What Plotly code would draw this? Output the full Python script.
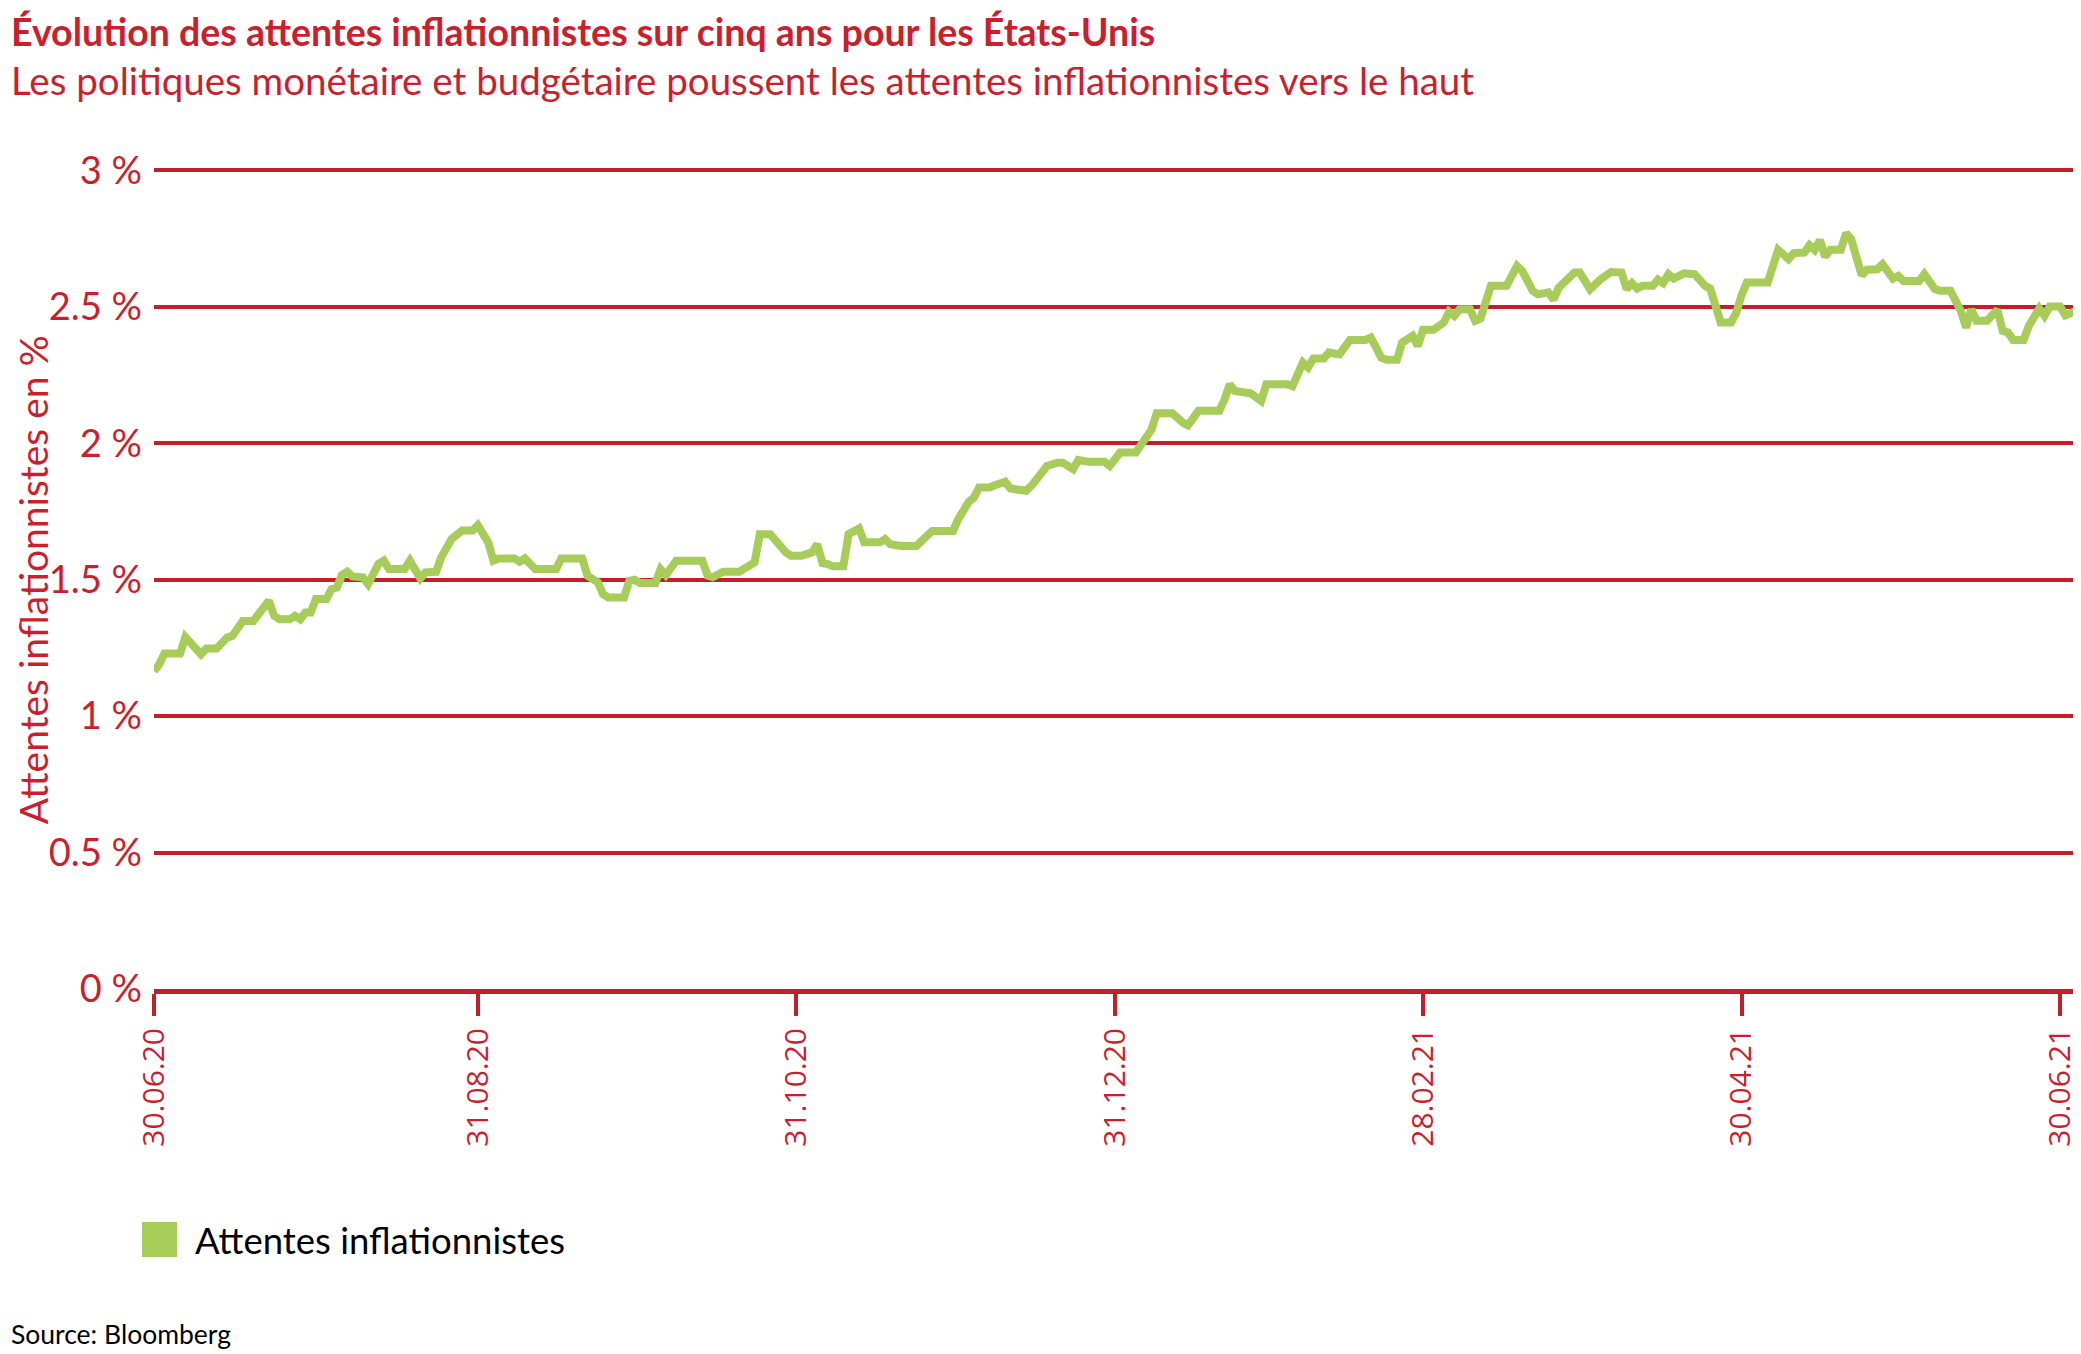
import plotly.graph_objects as go

RED = "#CC1F2D"
GRID_RED = "#C41E2A"
GREEN = "#A8CC5A"
TEXT_FONT = "Lato, sans-serif"
TICK_FONT = "Open Sans, sans-serif"

# Attentes inflationnistes sur cinq ans, Etats-Unis
dates = [
    "2020-06-30", "2020-07-01", "2020-07-02", "2020-07-05", "2020-07-06", "2020-07-09",
    "2020-07-10", "2020-07-12", "2020-07-14", "2020-07-15", "2020-07-17", "2020-07-19",
    "2020-07-22", "2020-07-23", "2020-07-24", "2020-07-26", "2020-07-27", "2020-07-28",
    "2020-07-29", "2020-07-30", "2020-07-31",
    "2020-08-02", "2020-08-03", "2020-08-04", "2020-08-05", "2020-08-06", "2020-08-07",
    "2020-08-09", "2020-08-10", "2020-08-12", "2020-08-13", "2020-08-14", "2020-08-17",
    "2020-08-18", "2020-08-20", "2020-08-21", "2020-08-23", "2020-08-24", "2020-08-26",
    "2020-08-27", "2020-08-28", "2020-08-30", "2020-08-31",
    "2020-09-02", "2020-09-03", "2020-09-04", "2020-09-07", "2020-09-08", "2020-09-09",
    "2020-09-11", "2020-09-15", "2020-09-16", "2020-09-20", "2020-09-21", "2020-09-23",
    "2020-09-24", "2020-09-25", "2020-09-28", "2020-09-29", "2020-09-30",
    "2020-10-01", "2020-10-04", "2020-10-05", "2020-10-06", "2020-10-08", "2020-10-13",
    "2020-10-14", "2020-10-15", "2020-10-17", "2020-10-20", "2020-10-23", "2020-10-24",
    "2020-10-26", "2020-10-29", "2020-10-30",
    "2020-11-01", "2020-11-03", "2020-11-04", "2020-11-05", "2020-11-06", "2020-11-07",
    "2020-11-09", "2020-11-10", "2020-11-12", "2020-11-13", "2020-11-16", "2020-11-17",
    "2020-11-18", "2020-11-20", "2020-11-23", "2020-11-25", "2020-11-26", "2020-11-30",
    "2020-12-01", "2020-12-03", "2020-12-04", "2020-12-05", "2020-12-07", "2020-12-08",
    "2020-12-10", "2020-12-11", "2020-12-13", "2020-12-14", "2020-12-15", "2020-12-17",
    "2020-12-18", "2020-12-20", "2020-12-21", "2020-12-23", "2020-12-24", "2020-12-26",
    "2020-12-29", "2020-12-30",
    "2021-01-01", "2021-01-04", "2021-01-05", "2021-01-07", "2021-01-08", "2021-01-11",
    "2021-01-13", "2021-01-14", "2021-01-16", "2021-01-20", "2021-01-21", "2021-01-22",
    "2021-01-23", "2021-01-26", "2021-01-28", "2021-01-29",
    "2021-02-02", "2021-02-03", "2021-02-05", "2021-02-06", "2021-02-07", "2021-02-09",
    "2021-02-10", "2021-02-12", "2021-02-14", "2021-02-17", "2021-02-18", "2021-02-20",
    "2021-02-21", "2021-02-23", "2021-02-24", "2021-02-26", "2021-02-27", "2021-02-28",
    "2021-03-02", "2021-03-04", "2021-03-05", "2021-03-06", "2021-03-07", "2021-03-09",
    "2021-03-10", "2021-03-11", "2021-03-13", "2021-03-16", "2021-03-18", "2021-03-19",
    "2021-03-21", "2021-03-22", "2021-03-24", "2021-03-25", "2021-03-26", "2021-03-29",
    "2021-03-30",
    "2021-04-01", "2021-04-03", "2021-04-05", "2021-04-07", "2021-04-08", "2021-04-09",
    "2021-04-10", "2021-04-11", "2021-04-13", "2021-04-14", "2021-04-15", "2021-04-16",
    "2021-04-17", "2021-04-19", "2021-04-21", "2021-04-22", "2021-04-23", "2021-04-24",
    "2021-04-26", "2021-04-28", "2021-04-29", "2021-04-30",
    "2021-05-01", "2021-05-05", "2021-05-06", "2021-05-07", "2021-05-09", "2021-05-10",
    "2021-05-12", "2021-05-13", "2021-05-14", "2021-05-15", "2021-05-16", "2021-05-17",
    "2021-05-19", "2021-05-20", "2021-05-21", "2021-05-23", "2021-05-24", "2021-05-26",
    "2021-05-27", "2021-05-28", "2021-05-29", "2021-05-30", "2021-05-31",
    "2021-06-03", "2021-06-04", "2021-06-06", "2021-06-07", "2021-06-09", "2021-06-10",
    "2021-06-11", "2021-06-12", "2021-06-13", "2021-06-14", "2021-06-16", "2021-06-18",
    "2021-06-19", "2021-06-20", "2021-06-21", "2021-06-23", "2021-06-24", "2021-06-26",
    "2021-06-27", "2021-06-28", "2021-06-30",
    "2021-07-01", "2021-07-03", "2021-07-04",
]

attentes = [
    1.165, 1.19, 1.23, 1.23, 1.29, 1.227,
    1.248, 1.248, 1.288, 1.294, 1.349, 1.349,
    1.423, 1.368, 1.355, 1.355, 1.368, 1.355,
    1.38, 1.38, 1.429,
    1.429, 1.466, 1.472, 1.517, 1.529, 1.512,
    1.509, 1.484, 1.558, 1.57, 1.539, 1.539,
    1.57, 1.505, 1.527, 1.529, 1.582, 1.65,
    1.662, 1.68, 1.68, 1.70,
    1.637, 1.57, 1.578, 1.578, 1.566, 1.578,
    1.539, 1.539, 1.578, 1.578, 1.515, 1.49,
    1.447, 1.435, 1.435, 1.496, 1.50,
    1.488, 1.488, 1.539, 1.517, 1.57, 1.57,
    1.515, 1.509, 1.529, 1.529, 1.563, 1.667,
    1.667, 1.60, 1.588,
    1.588, 1.60, 1.63, 1.561, 1.557, 1.549,
    1.549, 1.667, 1.688, 1.637, 1.637, 1.649,
    1.63, 1.624, 1.624, 1.667, 1.679, 1.679,
    1.722, 1.785, 1.801, 1.838, 1.838, 1.846,
    1.859, 1.834, 1.826, 1.826, 1.844, 1.887,
    1.917, 1.929, 1.929, 1.905, 1.939, 1.932,
    1.932, 1.917,
    1.966, 1.966, 1.996, 2.05, 2.11, 2.11,
    2.076, 2.066, 2.119, 2.119, 2.161, 2.216,
    2.192, 2.183, 2.155, 2.216,
    2.216, 2.21, 2.296, 2.278, 2.311, 2.311,
    2.333, 2.326, 2.379, 2.379, 2.388, 2.314,
    2.306, 2.306, 2.369, 2.394, 2.357, 2.416,
    2.416, 2.443, 2.482, 2.467, 2.491, 2.491,
    2.449, 2.457, 2.577, 2.577, 2.65, 2.632,
    2.559, 2.546, 2.553, 2.526, 2.571, 2.626,
    2.626,
    2.565, 2.601, 2.628, 2.626, 2.565, 2.587,
    2.567, 2.577, 2.577, 2.60, 2.587, 2.62,
    2.604, 2.623, 2.62, 2.599, 2.577, 2.567,
    2.443, 2.443, 2.479, 2.543,
    2.589, 2.589, 2.65, 2.709, 2.675, 2.697,
    2.699, 2.726, 2.709, 2.745, 2.684, 2.709,
    2.709, 2.77, 2.748, 2.616, 2.636, 2.638,
    2.656, 2.623, 2.604, 2.614, 2.595,
    2.595, 2.62, 2.565, 2.559, 2.559, 2.528,
    2.485, 2.424, 2.491, 2.449, 2.449, 2.489,
    2.412, 2.406, 2.379, 2.379, 2.43, 2.494,
    2.467, 2.501, 2.501,
    2.469, 2.485, 2.506,
]

x_ticks = ["2020-06-30", "2020-08-31", "2020-10-31", "2020-12-31",
           "2021-02-28", "2021-04-30", "2021-06-30"]
y_ticks = [0, 0.5, 1, 1.5, 2, 2.5, 3]
y_labels = ["0 %", "0.5 %", "1 %", "1.5 %", "2 %", "2.5 %", "3 %"]

# the page body has an 8px margin, so the figure is drawn 8px smaller
W, H = 2073, 1346
L, BOTTOM = 146, 981          # plot left edge and 0 % line, in figure pixels
PW = W - L
PH = 819                      # height of 0..3 %
Y_TOP = 3.02


def px(x):
    return (x - 8 - L) / PW


def py(y):
    return (BOTTOM - (y - 8)) / (PH * Y_TOP / 3)


fig = go.Figure()
fig.add_trace(go.Scatter(
    x=dates, y=attentes, mode="lines",
    name="Attentes inflationnistes",
    line=dict(color=GREEN, width=8),
    showlegend=False,
))

fig.update_layout(
    width=W, height=H,
    margin=dict(l=L, r=0, t=BOTTOM - PH * Y_TOP / 3, b=H - BOTTOM),
    paper_bgcolor="white", plot_bgcolor="white",
    xaxis=dict(
        type="date",
        range=["2020-06-30", "2021-07-04"],
        tickvals=x_ticks, tickformat="%d.%m.%y", tickangle=-90,
        ticks="outside", ticklen=22, tickwidth=4, tickcolor=GRID_RED,
        showline=True, linecolor=GRID_RED, linewidth=5,
        showgrid=False, zeroline=False,
        tickfont=dict(family=TICK_FONT, size=30, color=RED),
    ),
    yaxis=dict(
        range=[0, Y_TOP],
        tickvals=y_ticks, ticktext=y_labels,
        showgrid=True, gridcolor=GRID_RED, gridwidth=4,
        zeroline=False, showline=False, ticks="",
        ticklabelstandoff=11,
        tickfont=dict(family=TEXT_FONT, size=38, color=RED),
    ),
    annotations=[
        dict(text="<b>Évolution des attentes inflationnistes sur cinq ans pour les États-Unis</b>",
             xref="paper", yref="paper", x=px(9), y=py(31),
             xanchor="left", yanchor="middle", showarrow=False,
             font=dict(family=TEXT_FONT, size=37.5, color=RED)),
        dict(text="Les politiques monétaire et budgétaire poussent les attentes inflationnistes vers le haut",
             xref="paper", yref="paper", x=px(9), y=py(79),
             xanchor="left", yanchor="middle", showarrow=False,
             font=dict(family=TEXT_FONT, size=38.5, color=RED)),
        dict(text="Attentes inflationnistes en %", textangle=-90,
             xref="paper", yref="paper", x=px(33), y=py(580),
             xanchor="center", yanchor="middle", showarrow=False,
             font=dict(family=TEXT_FONT, size=39, color=RED)),
        dict(text="Attentes inflationnistes",
             xref="paper", yref="paper", x=px(193), y=py(1240),
             xanchor="left", yanchor="middle", showarrow=False,
             font=dict(family=TEXT_FONT, size=36.5, color="black")),
        dict(text="Source: Bloomberg",
             xref="paper", yref="paper", x=px(9), y=py(1334),
             xanchor="left", yanchor="middle", showarrow=False,
             font=dict(family=TEXT_FONT, size=26.5, color="black")),
    ],
    shapes=[
        # legend swatch
        dict(type="rect", xref="paper", yref="paper",
             xsizemode="pixel", ysizemode="pixel",
             xanchor=0, yanchor=0, x0=-12, x1=23, y0=-268, y1=-233,
             fillcolor=GREEN, line=dict(width=0)),
    ],
)

fig.write_html("out.html")
